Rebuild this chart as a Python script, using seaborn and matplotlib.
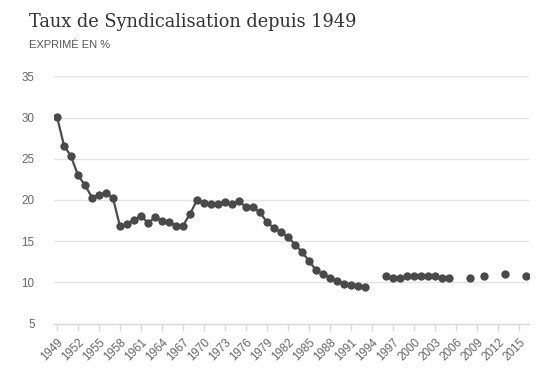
import numpy as np
import pandas as pd
import matplotlib
matplotlib.use("Agg")
import matplotlib.pyplot as plt
import seaborn as sns

# Data
years_a = list(range(1949, 1994))
values_a = [30.1, 26.6, 25.3, 23.0, 21.8, 20.3, 20.6, 20.9, 20.2, 16.8,
            17.1, 17.6, 18.1, 17.2, 17.9, 17.5, 17.3, 16.9, 16.9, 18.3,
            20.0, 19.6, 19.5, 19.5, 19.8, 19.5, 19.9, 19.1, 19.1, 18.5,
            17.3, 16.6, 16.1, 15.5, 14.6, 13.7, 12.6, 11.5, 11.0, 10.6,
            10.2, 9.8, 9.7, 9.6, 9.4]
years_b = list(range(1996, 2006))
values_b = [10.8, 10.5, 10.5, 10.8, 10.8, 10.8, 10.8, 10.8, 10.5, 10.5]
years_c = [2008, 2010, 2013, 2016]
values_c = [10.6, 10.8, 11.0, 10.8]

tick_years = list(range(1949, 2016, 3))
y_ticks = [5, 10, 15, 20, 25, 30, 35]

title = "Taux de Syndicalisation depuis 1949"
subtitle = "EXPRIMÉ EN %"

frames = []
frames.append(pd.DataFrame({"year": years_a, "value": values_a, "seg": "a"}))
frames.append(pd.DataFrame({"year": years_b, "value": values_b, "seg": "b"}))
for i, (yy, vv) in enumerate(zip(years_c, values_c)):
    frames.append(pd.DataFrame({"year": [yy], "value": [vv], "seg": f"c{i}"}))
df = pd.concat(frames, ignore_index=True)

sns.set_theme(style="white")
plt.rcParams["font.family"] = ["Liberation Sans", "DejaVu Sans"]

fig = plt.figure(figsize=(5.59, 3.87), dpi=100)
ax = fig.add_axes([54 / 559, (387 - 323.7) / 387, 475 / 559, (323.7 - 76.3) / 387])

dark = "#4a4a4a"
sns.lineplot(data=df, x="year", y="value", units="seg", estimator=None,
             color=dark, linewidth=1.6, marker="o", markersize=6,
             markeredgewidth=0, ax=ax, legend=False)

ax.set_xlim(1948.57, 2016.43)
ax.set_ylim(5, 35)
ax.set_yticks(y_ticks)
ax.set_yticklabels([str(v) for v in y_ticks])
ax.set_xticks(tick_years)
ax.set_xticklabels([str(y) for y in tick_years], rotation=45, ha="right",
                   rotation_mode="anchor")
ax.set_xlabel("")
ax.set_ylabel("")

for v in y_ticks[1:]:
    ax.axhline(v, color="#e3e3e3", linewidth=1.0, zorder=0)

for s in ["top", "right", "left"]:
    ax.spines[s].set_visible(False)
ax.spines["bottom"].set_color("#d8d8d8")
ax.spines["bottom"].set_linewidth(1.0)

ax.tick_params(axis="x", length=5, width=1, color="#d8d8d8", pad=4,
               labelsize=8.4, labelcolor="#666666", bottom=True)
ax.tick_params(axis="y", length=0, pad=14, labelsize=8.4, labelcolor="#666666")

fig.text(29 / 559, 1 - 27 / 387, title, family="DejaVu Serif", fontsize=12.8,
         color="#333333", ha="left", va="baseline")
fig.text(29 / 559, 1 - 48 / 387, subtitle, fontsize=8.0, color="#555555",
         ha="left", va="baseline")

fig.savefig("out.png", dpi=100)
